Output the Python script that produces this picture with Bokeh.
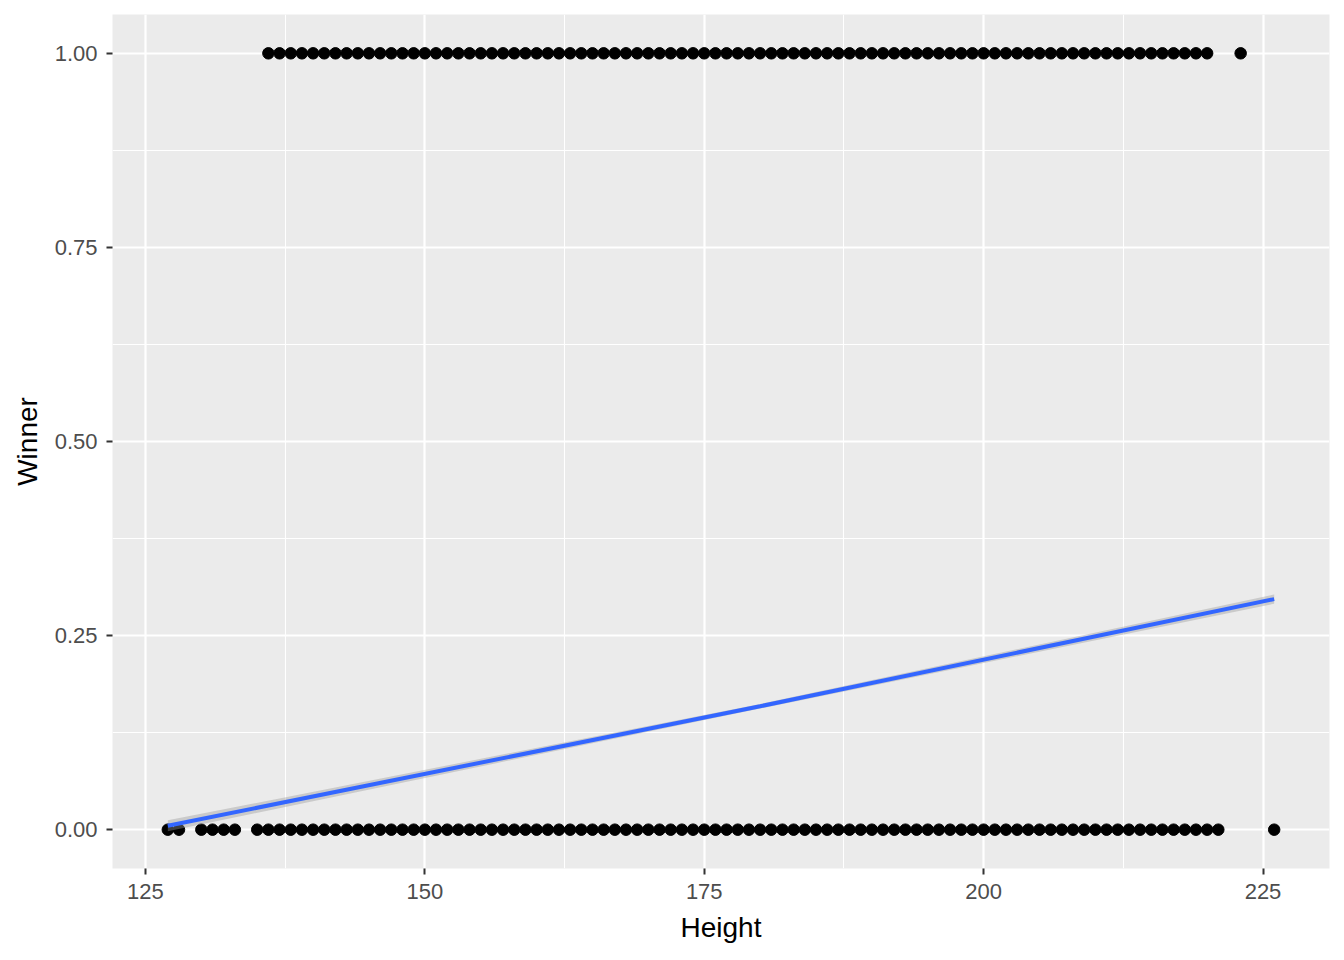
from bokeh.plotting import figure
from bokeh.models import Range1d, FixedTicker, NumeralTickFormatter, ColumnDataSource
from bokeh.embed import file_html
from bokeh.resources import INLINE

# Heights of winners (Winner = 1)
winner_heights = [136, 137, 138, 139, 140, 141, 142, 143, 144, 145, 146, 147, 148, 149, 150,
                  151, 152, 153, 154, 155, 156, 157, 158, 159, 160, 161, 162, 163, 164, 165,
                  166, 167, 168, 169, 170, 171, 172, 173, 174, 175, 176, 177, 178, 179, 180,
                  181, 182, 183, 184, 185, 186, 187, 188, 189, 190, 191, 192, 193, 194, 195,
                  196, 197, 198, 199, 200, 201, 202, 203, 204, 205, 206, 207, 208, 209, 210,
                  211, 212, 213, 214, 215, 216, 217, 218, 219, 220, 223]
# Heights of non-winners (Winner = 0)
loser_heights = [127, 128, 130, 131, 132, 133, 135, 136, 137, 138, 139, 140, 141, 142, 143,
                 144, 145, 146, 147, 148, 149, 150, 151, 152, 153, 154, 155, 156, 157, 158,
                 159, 160, 161, 162, 163, 164, 165, 166, 167, 168, 169, 170, 171, 172, 173,
                 174, 175, 176, 177, 178, 179, 180, 181, 182, 183, 184, 185, 186, 187, 188,
                 189, 190, 191, 192, 193, 194, 195, 196, 197, 198, 199, 200, 201, 202, 203,
                 204, 205, 206, 207, 208, 209, 210, 211, 212, 213, 214, 215, 216, 217, 218,
                 219, 220, 221, 226]

# Linear fit with confidence band
fit_x = [127, 180, 226]
fit_y = [0.005, 0.159, 0.297]
band_lo = [-0.002, 0.156, 0.291]
band_hi = [0.012, 0.162, 0.303]

x_ticks = [125, 150, 175, 200, 225]
x_minor = [137.5, 162.5, 187.5, 212.5]
y_ticks = [0.0, 0.25, 0.5, 0.75, 1.0]
y_minor = [0.125, 0.375, 0.625, 0.875]

FONT = "Liberation Sans"

p = figure(output_backend="svg", toolbar_location=None,
           x_range=Range1d(122.05, 230.95), y_range=Range1d(-0.05, 1.05),
           frame_width=1217, frame_height=854,
           min_border_left=112, min_border_top=14, min_border_right=6, min_border_bottom=80)

p.background_fill_color = "#EBEBEB"
p.border_fill_color = "white"
p.outline_line_color = None

p.xaxis.ticker = FixedTicker(ticks=x_ticks, minor_ticks=x_minor)
p.yaxis.ticker = FixedTicker(ticks=y_ticks, minor_ticks=y_minor)
p.yaxis.formatter = NumeralTickFormatter(format="0.00")

for g in (p.xgrid, p.ygrid):
    g.grid_line_color = "white"
    g.grid_line_width = 2.2
    g.minor_grid_line_color = "white"
    g.minor_grid_line_width = 1.1

for ax in (p.xaxis, p.yaxis):
    ax.axis_line_color = None
    ax.minor_tick_line_color = None
    ax.major_tick_line_color = "#333333"
    ax.major_tick_line_width = 2
    ax.major_tick_out = 6
    ax.major_tick_in = 0
    ax.major_label_text_font = FONT
    ax.major_label_text_font_size = "22px"
    ax.major_label_text_color = "#4D4D4D"
    ax.axis_label_text_font = FONT
    ax.axis_label_text_font_size = "28px"
    ax.axis_label_text_font_style = "normal"
    ax.axis_label_text_color = "black"

p.xaxis.axis_label = "Height"
p.yaxis.axis_label = "Winner"
p.xaxis.major_label_standoff = 9
p.yaxis.major_label_standoff = 9
p.xaxis.axis_label_standoff = 10
p.yaxis.axis_label_standoff = 9

p.scatter(winner_heights, [1] * len(winner_heights), size=11.5, color="black")
p.scatter(loser_heights, [0] * len(loser_heights), size=11.5, color="black")

band = ColumnDataSource(dict(x=fit_x, lo=band_lo, hi=band_hi))
p.varea(x="x", y1="lo", y2="hi", source=band, fill_color="#999999", fill_alpha=0.4)
p.line(fit_x, fit_y, line_color="#3366FF", line_width=4)

open("out.html", "w").write(file_html(p, INLINE))
